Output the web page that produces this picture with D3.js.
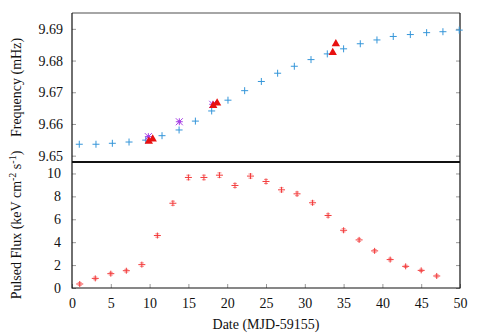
<!DOCTYPE html>
<html>
<head>
<meta charset="utf-8">
<script src="https://cdn.jsdelivr.net/npm/d3@7"></script>
<style>
body { margin: 0; background: #fff; }
</style>
</head>
<body>
<div id="chart"></div>
<script>
// frequency (blue crosses)
var freqDays = [0.94, 3.09, 5.2, 7.35, 9.5, 11.6, 13.8, 15.9, 18.0, 20.1, 22.25, 24.4, 26.5, 28.65, 30.8, 32.9, 35.0, 37.15, 39.3, 41.4, 43.6, 45.7, 47.8, 49.9];
var freqVals = [9.6536, 9.6536, 9.6539, 9.6543, 9.6549, 9.6563, 9.6581, 9.6609, 9.6641, 9.6675, 9.6705, 9.6734, 9.6760, 9.6782, 9.6803, 9.6821, 9.6837, 9.6853, 9.6865, 9.6876, 9.6882, 9.6888, 9.6891, 9.6896];
// purple asterisks
var starDays = [9.84, 13.83, 18.13];
var starVals = [9.6560, 9.6607, 9.6662];
// red triangles
var triDays = [9.9, 10.4, 18.2, 18.7, 33.6, 34.0];
var triVals = [9.6545, 9.6552, 9.6658, 9.6666, 9.6825, 9.6853];
// pulsed flux
var fluxDays = [1, 3, 5, 7, 9, 11, 13, 15, 17, 19, 21, 23, 25, 27, 29, 31, 33, 35, 37, 39, 41, 43, 45, 47];
var fluxVals = [0.35, 0.84, 1.25, 1.51, 2.04, 4.58, 7.4, 9.65, 9.65, 9.85, 8.95, 9.77, 9.3, 8.57, 8.22, 7.44, 6.33, 5.04, 4.2, 3.24, 2.48, 1.89, 1.54, 1.05];
var fluxErr = [0.12, 0.12, 0.12, 0.12, 0.15, 0.15, 0.18, 0.2, 0.2, 0.2, 0.18, 0.18, 0.18, 0.18, 0.16, 0.16, 0.15, 0.14, 0.13, 0.12, 0.12, 0.1, 0.1, 0.1];

var xTicks = [0, 5, 10, 15, 20, 25, 30, 35, 40, 45, 50];
var freqTicks = [9.65, 9.66, 9.67, 9.68, 9.69];
var fluxTicks = [0, 2, 4, 6, 8, 10];

(function() {
var width = 480, height = 336;
var pLeft = 72, pRight = 460, pTop = 13, pMid = 162, pBottom = 288;
var serif = "'Liberation Serif', 'DejaVu Serif', serif";

var svg = d3.select("#chart").append("svg")
  .attr("width", width).attr("height", height);

var x = d3.scaleLinear().domain([0, 50]).range([pLeft, pRight]);
var yF = d3.scaleLinear().domain([9.648, 9.695]).range([pMid, pTop]);
var yP = d3.scaleLinear().domain([0, 11]).range([pBottom, pMid]);

// axes, ticks pointing inward
svg.append("g").attr("transform", "translate(" + pLeft + ",0)")
  .call(d3.axisLeft(yF).tickValues(freqTicks).tickFormat(d3.format(".2f")).tickSizeInner(-4).tickSizeOuter(0).tickPadding(9));
svg.append("g").attr("transform", "translate(" + pRight + ",0)")
  .call(d3.axisRight(yF).tickValues(freqTicks).tickFormat("").tickSizeInner(-4).tickSizeOuter(0));
svg.append("g").attr("transform", "translate(" + pLeft + ",0)")
  .call(d3.axisLeft(yP).tickValues(fluxTicks).tickSizeInner(-4).tickSizeOuter(0).tickPadding(11));
svg.append("g").attr("transform", "translate(" + pRight + ",0)")
  .call(d3.axisRight(yP).tickValues(fluxTicks).tickFormat("").tickSizeInner(-4).tickSizeOuter(0));
svg.append("g").attr("transform", "translate(0," + pBottom + ")")
  .call(d3.axisBottom(x).tickValues(xTicks).tickSizeInner(-4).tickSizeOuter(0).tickPadding(10));

svg.selectAll(".domain").remove();
svg.selectAll("g").attr("font-family", serif).attr("font-size", 14);
svg.selectAll(".tick line").attr("stroke", "#999");
svg.selectAll(".tick text").attr("fill", "#111").style("font-family", serif).style("font-size", "14px");

// frame
svg.append("line").attr("x1", pLeft).attr("x2", pRight).attr("y1", pTop).attr("y2", pTop)
  .attr("stroke", "#888").attr("stroke-width", 1.5);
svg.append("path")
  .attr("d", "M" + pLeft + "," + pTop + "V" + pBottom + "H" + pRight + "V" + pTop)
  .attr("fill", "none").attr("stroke", "#111").attr("stroke-width", 1.2);
svg.append("line").attr("x1", pLeft).attr("x2", pRight)
  .attr("y1", pMid).attr("y2", pMid)
  .attr("stroke", "#111").attr("stroke-width", 2);

// blue crosses
var blue = "#3596d9";
var bp = svg.append("g").attr("stroke", blue).attr("stroke-width", 1);
freqDays.forEach(function(d, i) {
  var cx = x(d), cy = yF(freqVals[i]);
  bp.append("path").attr("d", "M" + (cx - 3.5) + "," + cy + "H" + (cx + 3.5) + "M" + cx + "," + (cy - 3.5) + "V" + (cy + 3.5));
});

// purple asterisks
var purple = "#a844e6";
var sp = svg.append("g").attr("stroke", purple).attr("stroke-width", 1);
starDays.forEach(function(d, i) {
  var cx = x(d), cy = yF(starVals[i]), r = 3.5;
  sp.append("path").attr("d",
    "M" + (cx - r) + "," + cy + "H" + (cx + r) +
    "M" + cx + "," + (cy - r) + "V" + (cy + r) +
    "M" + (cx - r) + "," + (cy - r) + "L" + (cx + r) + "," + (cy + r) +
    "M" + (cx - r) + "," + (cy + r) + "L" + (cx + r) + "," + (cy - r));
  sp.append("circle").attr("cx", cx).attr("cy", cy).attr("r", 1.3).attr("fill", purple);
});

// red triangles
var tri = d3.symbol().type(d3.symbolTriangle).size(30);
svg.append("g").selectAll("path").data(triDays).enter().append("path")
  .attr("d", tri)
  .attr("transform", function(d, i) { return "translate(" + x(d) + "," + yF(triVals[i]) + ")"; })
  .attr("fill", "#e81010");

// pulsed flux with error bars
var red = "#f33b3b";
var fp = svg.append("g").attr("stroke", red).attr("stroke-width", 1);
fluxDays.forEach(function(d, i) {
  var cx = x(d), cy = yP(fluxVals[i]);
  var y0 = yP(fluxVals[i] - fluxErr[i]), y1 = yP(fluxVals[i] + fluxErr[i]);
  fp.append("path").attr("d", "M" + (cx - 3.5) + "," + cy + "H" + (cx + 3.5) + "M" + cx + "," + Math.max(y0, cy + 3) + "V" + Math.min(y1, cy - 3));
  fp.append("path").attr("d", "M" + (cx - 2) + "," + y0 + "H" + (cx + 2) + "M" + (cx - 2) + "," + y1 + "H" + (cx + 2)).attr("opacity", 0.6);
});

// labels
svg.append("text")
  .attr("transform", "translate(21," + ((pTop + pMid) / 2) + ") rotate(-90)")
  .attr("text-anchor", "middle").style("font-size", "14px").style("font-family", serif).attr("fill", "#111")
  .text("Frequency (mHz)");

var pl = svg.append("text")
  .attr("transform", "translate(21," + ((pMid + pBottom) / 2) + ") rotate(-90)")
  .attr("text-anchor", "middle").style("font-size", "14px").style("font-family", serif).attr("fill", "#111");
pl.append("tspan").text("Pulsed Flux (keV cm");
pl.append("tspan").attr("dy", -5).style("font-size", "10px").text("-2");
pl.append("tspan").attr("dy", 5).text(" s");
pl.append("tspan").attr("dy", -5).style("font-size", "10px").text("-1");
pl.append("tspan").attr("dy", 5).text(")");

svg.append("text")
  .attr("x", (pLeft + pRight) / 2).attr("y", 329)
  .attr("text-anchor", "middle").style("font-size", "14px").style("font-family", serif).attr("fill", "#111")
  .text("Date (MJD-59155)");
})();
</script>
</body>
</html>
